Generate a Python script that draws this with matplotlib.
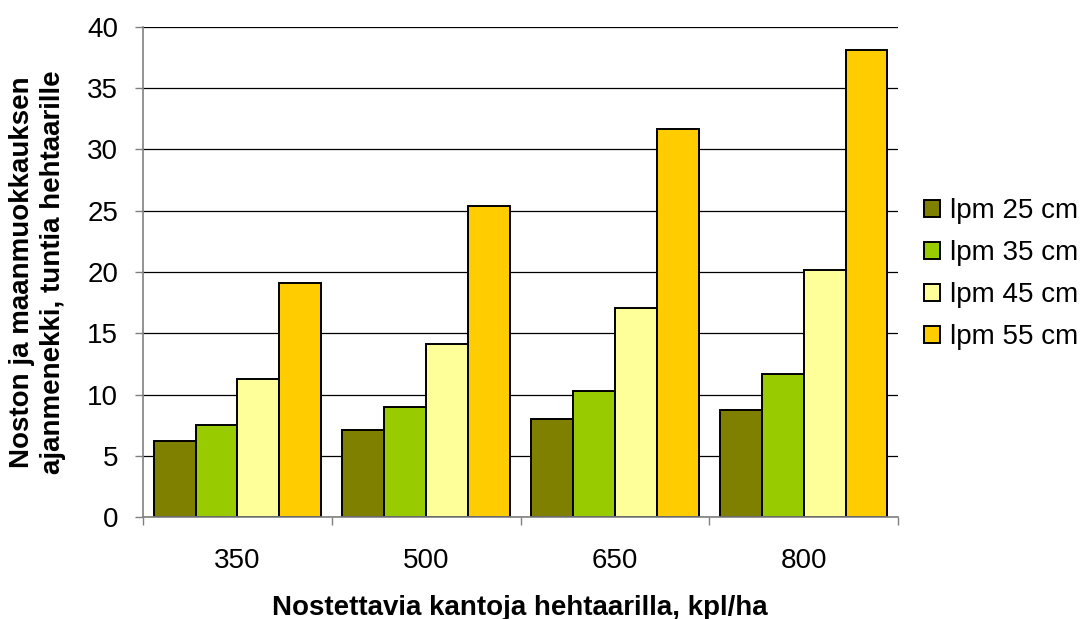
import numpy as np
import matplotlib.pyplot as plt

plt.rcParams['font.family'] = ['Liberation Sans', 'DejaVu Sans']

# Stumps lifted per hectare
categories = ["350", "500", "650", "800"]

# Hours per hectare for lifting + soil preparation, by stump diameter
lpm_25 = [6.2, 7.1, 8.0, 8.8]
lpm_35 = [7.5, 9.0, 10.3, 11.7]
lpm_45 = [11.3, 14.1, 17.1, 20.2]
lpm_55 = [19.1, 25.4, 31.7, 38.1]

series_labels = ["lpm 25 cm", "lpm 35 cm", "lpm 45 cm", "lpm 55 cm"]
colors = ["#808000", "#99CC00", "#FFFF99", "#FFCC00"]

fs = 20

fig = plt.figure(figsize=(10.82, 6.19), dpi=100)
ax = fig.add_axes([0.1322, 0.1640, 0.6978, 0.7929])

x = np.arange(len(categories))
width = 0.222
for i, (vals, lab, col) in enumerate(zip([lpm_25, lpm_35, lpm_45, lpm_55], series_labels, colors)):
    ax.bar(x + (i - 1.5) * width, vals, width, color=col, edgecolor="black",
           linewidth=1.4, label=lab, zorder=3)

ax.set_xlim(-0.5, 3.5)
ax.set_ylim(0, 40)
ax.set_yticks(range(0, 41, 5))
ax.yaxis.grid(True, color="black", linewidth=0.9, zorder=0)
ax.set_axisbelow(True)

# category labels centred, tick marks on the group boundaries
ax.set_xticks(x)
ax.set_xticklabels(categories)
ax.set_xticks(np.arange(-0.5, 4.0, 1.0), minor=True)
ax.tick_params(axis="x", which="major", length=0, pad=22, labelsize=fs)
ax.tick_params(axis="x", which="minor", length=6, width=1, color="#808080")
ax.tick_params(axis="y", length=6, width=1, color="#808080", pad=12, labelsize=fs)

for side in ["top", "right"]:
    ax.spines[side].set_visible(False)
for side in ["left", "bottom"]:
    ax.spines[side].set_color("#808080")
    ax.spines[side].set_linewidth(1.2)
    ax.spines[side].set_zorder(4)

fig.text(0.4806, 0.0065, "Nostettavia kantoja hehtaarilla, kpl/ha", ha="center",
         va="baseline", fontsize=fs, fontweight="bold")
fig.text(0.035, 0.56, "Noston ja maanmuokkauksen\najanmenekki, tuntia hehtaarille",
         rotation=90, ha="center", va="center", multialignment="center",
         fontsize=fs, fontweight="bold", linespacing=1.25)

fig.legend(loc="center left", bbox_to_anchor=(0.854, 0.557), frameon=False,
           fontsize=fs, handlelength=0.58, handleheight=0.58, handletextpad=0.34,
           labelspacing=0.58, borderpad=0, borderaxespad=0)

fig.savefig("out.png", dpi=100)
